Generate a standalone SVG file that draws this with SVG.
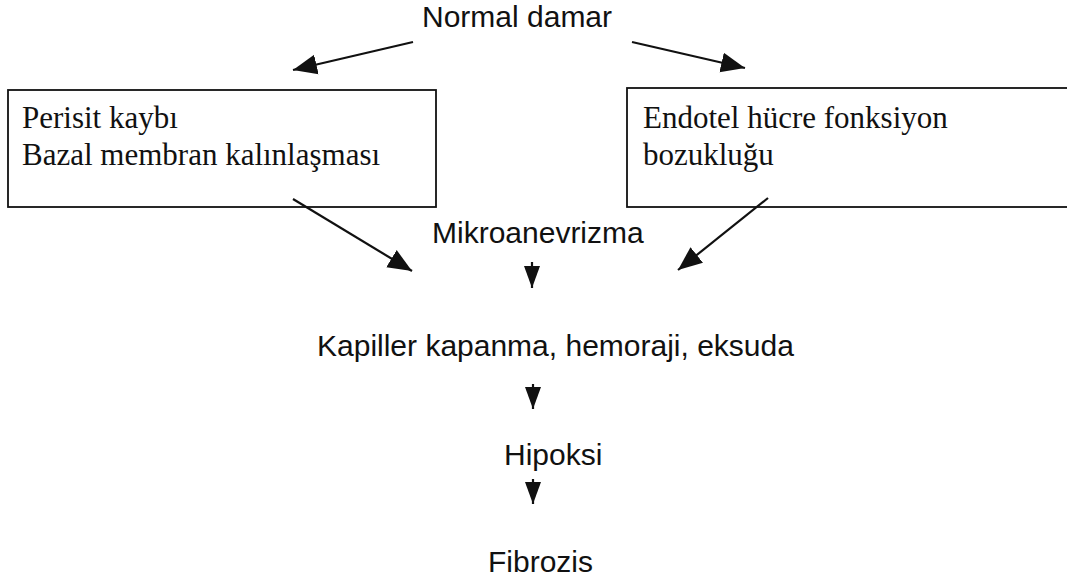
<svg xmlns="http://www.w3.org/2000/svg" width="1067" height="581" viewBox="0 0 1067 581">
<style>
.sans{font-family:"Liberation Sans",Arial,sans-serif;font-size:30px;fill:#111}
.serif{font-family:"Liberation Serif","Times New Roman",serif;font-size:31px;fill:#111}
.box{fill:none;stroke:#111;stroke-width:1.8}
.edge{fill:none;stroke:#111;stroke-width:2.2}
</style>
<defs>
<marker id="ah" markerWidth="26" markerHeight="22" refX="24" refY="11" orient="auto" markerUnits="userSpaceOnUse">
<path d="M0,1 L24,11 L0,21 z" fill="#111"/>
</marker>
<marker id="ad" markerWidth="24" markerHeight="20" refX="22" refY="10" orient="auto" markerUnits="userSpaceOnUse">
<path d="M0,2 L22,10 L0,18 z" fill="#111"/>
</marker>
</defs>
<rect width="1067" height="581" fill="#fff"/>
<g id="n-normal"><text class="sans" x="422" y="27">Normal damar</text></g>
<g id="n-perisit">
<rect class="box" x="8" y="90" width="428" height="117"/>
<text class="serif" x="22" y="128">Perisit kaybı</text>
<text class="serif" x="22" y="165">Bazal membran kalınlaşması</text>
</g>
<g id="n-endotel">
<rect class="box" x="627" y="88" width="445" height="119"/>
<text class="serif" x="643" y="128">Endotel hücre fonksiyon</text>
<text class="serif" x="643" y="165">bozukluğu</text>
</g>
<g id="n-mikro"><text class="sans" x="432" y="243">Mikroanevrizma</text></g>
<g id="n-kapiller"><text class="sans" x="317" y="356">Kapiller kapanma, hemoraji, eksuda</text></g>
<g id="n-hipoksi"><text class="sans" x="504" y="465">Hipoksi</text></g>
<g id="n-fibrozis"><text class="sans" x="488" y="572">Fibrozis</text></g>
<g id="connectors">
<line class="edge" x1="413" y1="42" x2="293" y2="70" marker-end="url(#ah)"/>
<line class="edge" x1="632" y1="42" x2="745" y2="68" marker-end="url(#ah)"/>
<line class="edge" x1="293" y1="199" x2="412" y2="271" marker-end="url(#ah)"/>
<line class="edge" x1="768" y1="198" x2="678" y2="270" marker-end="url(#ah)"/>
<line class="edge" x1="532" y1="262" x2="532" y2="288" marker-end="url(#ad)"/>
<line class="edge" x1="533" y1="384" x2="533" y2="409" marker-end="url(#ad)"/>
<line class="edge" x1="533" y1="479" x2="533" y2="504" marker-end="url(#ad)"/>
</g>
</svg>
